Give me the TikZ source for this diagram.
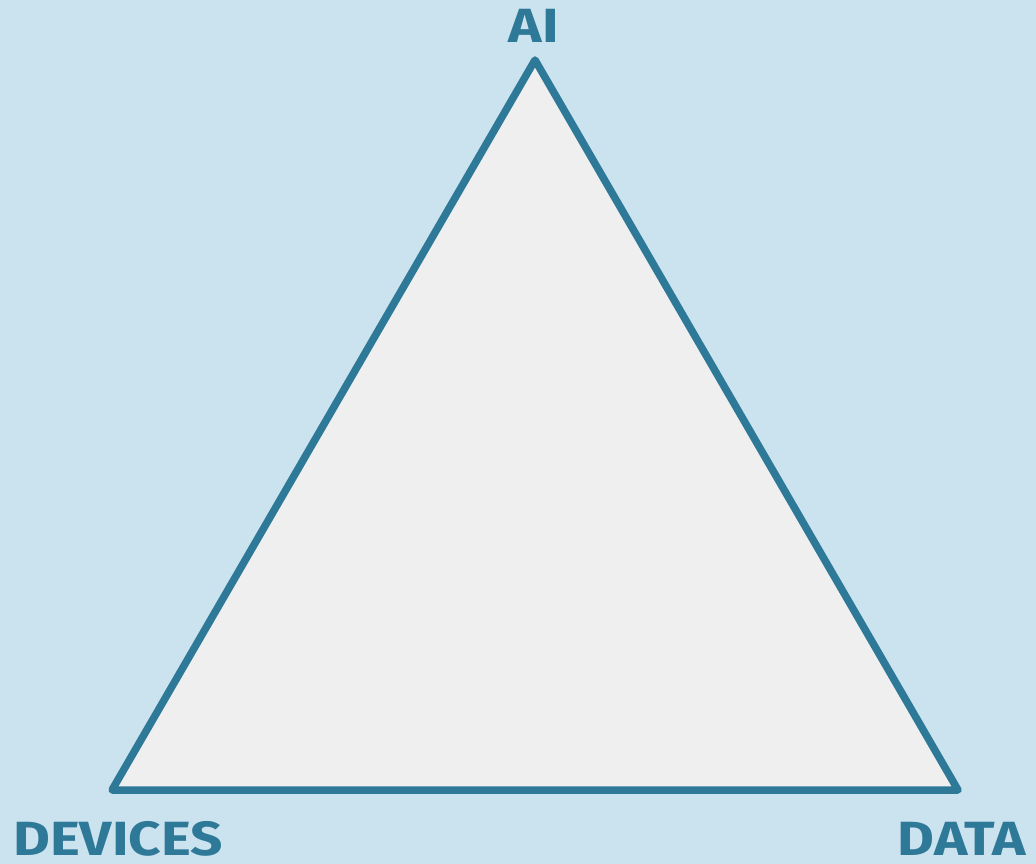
\documentclass[tikz,border=0pt]{standalone}
\usepackage{fontspec}
\setmainfont{Fira Sans}
\newfontfamily\lblfont{Fira Sans}[FakeStretch=1.18]
\definecolor{bgblue}{HTML}{CBE3EE}
\definecolor{tri}{HTML}{2E7898}
\definecolor{trifill}{HTML}{EFEFEF}
\begin{document}
\begin{tikzpicture}[x=1pt,y=-1pt,
  lbl/.style={text=tri,font=\lblfont\fontsize{48}{48}\selectfont\bfseries,inner sep=0pt}]
\fill[bgblue] (0,0) rectangle (1036,864);
\useasboundingbox (0,0) rectangle (1036,864);
\coordinate (top) at (535,60);
\coordinate (bl) at (112,790);
\coordinate (br) at (958,790);
\draw[tri,fill=trifill,line width=7.5pt,line join=round] (top) -- (bl) -- (br) -- cycle;
\node[lbl,anchor=base] (ai) at (534,43) {AI};
\node[lbl,anchor=base west] (dev) at (13,855) {DEVICES};
\node[lbl,anchor=base east] (data) at (1026,855) {DATA};
\end{tikzpicture}
\end{document}
